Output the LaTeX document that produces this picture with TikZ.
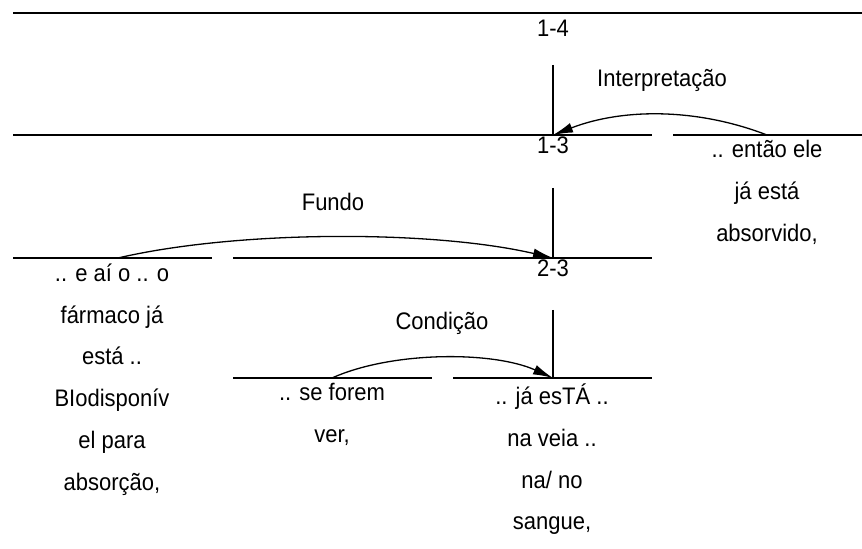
\documentclass[tikz,border=0pt]{standalone}
\usepackage{fontspec}
\setmainfont[FakeStretch=0.92]{Liberation Sans}
\usetikzlibrary{arrows.meta}

\begin{document}
\begin{tikzpicture}[>={Latex[length=20bp,width=10bp]},line join=bevel,
  seg/.style={anchor=north,inner sep=0pt,align=center,font=\fontsize{24}{42}\selectfont},
  span/.style={anchor=north,inner sep=0pt,font=\fontsize{24}{28}\selectfont},
  rel/.style={inner sep=0pt,font=\fontsize{24}{28}\selectfont}]
\pgfsetlinewidth{1.3bp}
\pgfsetcolor{black}
\useasboundingbox (0bp,0bp) rectangle (862bp,549bp);

% Lines
\coordinate (l14) at (13bp,536bp);
\coordinate (r14) at (862bp,536bp);
\coordinate (l13) at (13bp,414bp);
\coordinate (r13) at (652bp,414bp);
\coordinate (l4) at (673bp,414bp);
\coordinate (r4) at (862bp,414bp);
\coordinate (l1) at (13bp,291bp);
\coordinate (r1) at (212bp,291bp);
\coordinate (l23) at (233bp,291bp);
\coordinate (r23) at (652bp,291bp);
\coordinate (l2) at (233bp,171bp);
\coordinate (r2) at (432bp,171bp);
\coordinate (l3) at (453bp,171bp);
\coordinate (r3) at (652bp,171bp);
\draw (l14) -- (r14);
\draw (l13) -- (r13);
\draw (l4) -- (r4);
\draw (l1) -- (r1);
\draw (l23) -- (r23);
\draw (l2) -- (r2);
\draw (l3) -- (r3);

% Nucleus: 1-3, 2-3, 3
\coordinate (t13) at (553bp,484bp);
\coordinate (n13) at (553bp,414bp);
\coordinate (t23) at (553bp,361bp);
\coordinate (n23) at (553bp,291bp);
\coordinate (t3) at (553bp,239bp);
\coordinate (n3) at (553bp,171bp);
\draw (t13) -- (n13);
\draw (t23) -- (n23);
\draw (t3) -- (n3);

% Span labels
\node[span] (s14) at (553bp,530bp) {1-4};
\node[span] (s13) at (553bp,413bp) {1-3};
\node[span] (s23) at (553bp,290bp) {2-3};

% Node: 1
\node[seg] (u1) at (112bp,286bp) {.. e aí o .. o\\fármaco já\\está ..\\BIodisponív\\el para\\absorção,};

% Node: 2
\node[seg] (u2) at (332bp,166bp) {.. se forem\\ver,};

% Node: 3
\node[seg] (u3) at (552bp,166bp) {.. já esTÁ ..\\na veia ..\\na/ no\\sangue,};

% Node: 4
\node[seg] (u4) at (767bp,409bp) {.. então ele\\já está\\absorvido,};

% Edge: 4 -> 1-3
\draw [->] (u4.north |- l4) .. controls +(-70bp,27bp) and +(70bp,27bp) .. (n13);
\node[rel] (interp) at (662bp,469bp) {Interpretação};

% Edge: 1 -> 2-3
\draw [->] (118bp,291bp) .. controls +(120bp,28bp) and +(-120bp,28bp) .. (n23);
\node[rel] (fundo) at (333bp,347bp) {Fundo};

% Edge: 2 -> 3
\draw [->] (u2.north |- l2) .. controls +(60bp,27bp) and +(-60bp,27bp) .. (n3);
\node[rel] (cond) at (442bp,226bp) {Condição};

\end{tikzpicture}
\end{document}
